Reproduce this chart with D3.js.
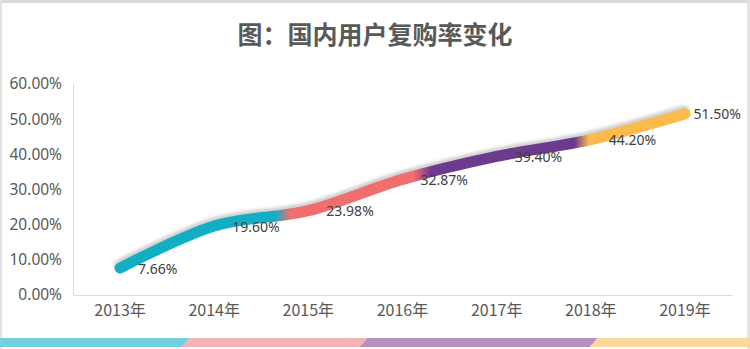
<!DOCTYPE html>
<html>
<head>
<meta charset="utf-8">
<script src="https://cdn.jsdelivr.net/npm/d3@7/dist/d3.min.js"></script>
<style>
  html, body { margin: 0; padding: 0; background: #fff; }
  svg { display: block; }
</style>
</head>
<body>
<svg id="chart" width="750" height="349"></svg>
<script>
// Repurchase rate of domestic users, 2013–2019
const categories = ["2013年", "2014年", "2015年", "2016年", "2017年", "2018年", "2019年"];
const rates = [7.66, 19.60, 23.98, 32.87, 39.40, 44.20, 51.50];
const yTicks = [0, 10, 20, 30, 40, 50, 60];
const title = "图：国内用户复购率变化";

const W = 750, H = 349;
const svg = d3.select("#chart");
const fontCJK = "'Noto Sans CJK SC', 'Noto Sans', sans-serif";
const fontNum = "'Noto Sans', 'Noto Sans CJK SC', sans-serif";

// outer frame
svg.append("rect").attr("x", 0).attr("y", 0).attr("width", W).attr("height", H).attr("fill", "#fff");
svg.append("rect").attr("x", 0).attr("y", 0).attr("width", W).attr("height", 3).attr("fill", "#d9d9d9");
svg.append("rect").attr("x", 0).attr("y", 0).attr("width", 2).attr("height", H).attr("fill", "#e3e3e3");
svg.append("rect").attr("x", W - 3).attr("y", 0).attr("width", 3).attr("height", H).attr("fill", "#e3e3e3");

// decorative colour strip along the bottom
const strip = [
  { from: 0, to: 0.253, color: "#72d0dc" },
  { from: 0.253, to: 0.49, color: "#f4b3b3" },
  { from: 0.49, to: 0.797, color: "#b590c1" },
  { from: 0.797, to: 1.02, color: "#fdd89c" }
];
const sTop = 338, sBot = 347, slant = 8;
svg.append("g").selectAll("polygon").data(strip).join("polygon")
  .attr("points", d => {
    const a = d.from * W, b = d.to * W;
    return [[a, sTop], [b, sTop], [b - slant, sBot], [a - slant, sBot]].map(p => p.join(",")).join(" ");
  })
  .attr("fill", d => d.color);

// title
svg.append("text")
  .attr("x", 375).attr("y", 33)
  .attr("text-anchor", "middle").attr("dominant-baseline", "central")
  .style("font-family", fontCJK).style("font-size", "25px").style("font-weight", "bold")
  .attr("fill", "#595959")
  .text(title);

// scales
const x = d3.scaleBand().domain(categories).range([73, 732]).padding(0);
const cx = c => x(c) + x.bandwidth() / 2;
const y = d3.scaleLinear().domain([0, 60]).range([295, 84]);

// axes
const gx = svg.append("g").attr("transform", "translate(0,295)")
  .call(d3.axisBottom(x).tickSize(0).tickSizeOuter(0).tickPadding(10));
gx.select(".domain").attr("stroke", "#d9d9d9").attr("stroke-width", 1);
gx.selectAll("text").style("font-family", fontCJK).style("font-size", "16px").attr("fill", "#595959");

const gy = svg.append("g").attr("transform", "translate(73,0)")
  .call(d3.axisLeft(y).tickValues(yTicks).tickFormat(d => d.toFixed(2) + "%").tickSize(0).tickSizeOuter(0).tickPadding(11));
gy.select(".domain").attr("stroke", "#d9d9d9").attr("stroke-width", 1);
gy.selectAll("text").style("font-family", fontNum).style("font-size", "15.5px").attr("fill", "#595959");

// line colour gradient and shadow
const defs = svg.append("defs");
const x0 = cx(categories[0]), x1 = cx(categories[categories.length - 1]);
const grad = defs.append("linearGradient").attr("id", "lineGrad")
  .attr("gradientUnits", "userSpaceOnUse")
  .attr("x1", x0).attr("y1", 0).attr("x2", x1).attr("y2", 0);
[
  [0, "#12afc4"], [0.275, "#12afc4"], [0.30, "#f06e6e"],
  [0.52, "#f06e6e"], [0.55, "#6c3b8d"],
  [0.805, "#6c3b8d"], [0.83, "#fbbb4c"], [1, "#fbbb4c"]
].forEach(([o, c]) => grad.append("stop").attr("offset", o).attr("stop-color", c));

const blur = defs.append("filter").attr("id", "shadowBlur")
  .attr("x", "-10%").attr("y", "-30%").attr("width", "120%").attr("height", "160%");
blur.append("feGaussianBlur").attr("stdDeviation", 1.6);

const line = d3.line()
  .x((d, i) => cx(categories[i]))
  .y(d => y(d))
  .curve(d3.curveCatmullRom.alpha(0));

svg.append("path").datum(rates)
  .attr("d", line)
  .attr("transform", "translate(-1,-3)")
  .attr("fill", "none").attr("stroke", "#c9c9c9").attr("stroke-width", 11)
  .attr("stroke-linecap", "round").attr("opacity", 0.85)
  .attr("filter", "url(#shadowBlur)");

svg.append("path").datum(rates)
  .attr("d", line)
  .attr("fill", "none").attr("stroke", "url(#lineGrad)").attr("stroke-width", 11)
  .attr("stroke-linecap", "round").attr("stroke-linejoin", "round");

// value labels, to the right of each point, kept inside the plot
const rightLimit = 741;
svg.append("g").selectAll("text").data(rates).join("text")
  .attr("x", (d, i) => cx(categories[i]) + 18)
  .attr("y", d => y(d))
  .attr("dominant-baseline", "central")
  .style("font-family", fontNum).style("font-size", "14px")
  .attr("fill", "#404040")
  .text(d => d.toFixed(2) + "%")
  .each(function (d, i) {
    const w = this.getComputedTextLength();
    const px = cx(categories[i]) + 18;
    if (px + w > rightLimit) d3.select(this).attr("x", rightLimit - w);
  });
</script>
</body>
</html>
